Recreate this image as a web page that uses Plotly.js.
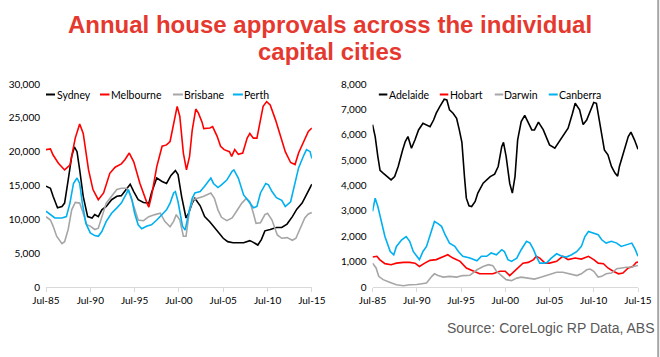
<!DOCTYPE html>
<html>
<head>
<meta charset="utf-8">
<script src="https://cdn.plot.ly/plotly-3.0.1.min.js"></script>
<style>html,body{margin:0;padding:0;background:#fff;}#chart{width:660px;height:357px;}</style>
</head>
<body>
<div id="chart"></div>
<script>
// Tick labels (decimal year positions of July each 5 years)
const tickYears = [1985.5, 1990.5, 1995.5, 2000.5, 2005.5, 2010.5, 2015.5];
const tickLabels = ["Jul-85", "Jul-90", "Jul-95", "Jul-00", "Jul-05", "Jul-10", "Jul-15"];

// Left panel: [decimal year, annual approvals]
const sydney = [[1985.5,14900],[1986.0,14600],[1986.3,13400],[1986.8,11700],[1987.3,11900],[1987.6,12400],[1988.0,15800],[1988.4,19300],[1988.7,20700],[1989.0,20000],[1989.3,17300],[1989.7,13400],[1990.2,10400],[1990.7,10200],[1991.0,10700],[1991.4,10400],[1991.8,11400],[1992.3,11900],[1992.9,12900],[1993.5,13400],[1994.0,13500],[1994.6,14600],[1995.0,15200],[1995.4,14100],[1995.9,12900],[1996.5,12500],[1997.1,12400],[1997.4,13900],[1998.0,16100],[1998.6,15600],[1999.1,15300],[1999.6,16500],[2000.1,17200],[2000.4,16600],[2000.8,13400],[2001.3,10200],[2001.6,10900],[2002.0,12400],[2002.3,13100],[2002.9,12000],[2003.4,10400],[2004.0,9600],[2004.8,8400],[2005.5,7200],[2006.0,6700],[2006.6,6550],[2007.8,6550],[2008.5,6850],[2008.9,6600],[2009.4,6200],[2009.8,7000],[2010.2,8300],[2010.8,8500],[2011.5,8800],[2012.1,8800],[2012.7,9300],[2013.3,10400],[2013.8,11500],[2014.4,12400],[2014.9,13600],[2015.5,15200]];
const melbourne = [[1985.5,20300],[1986.0,20400],[1986.3,19500],[1986.9,18300],[1987.6,17300],[1988.2,18000],[1988.8,22000],[1989.3,24100],[1989.7,22700],[1990.3,17300],[1990.8,14400],[1991.4,12900],[1992.0,13900],[1992.7,16800],[1993.3,17700],[1994.0,18200],[1994.4,18800],[1994.9,19800],[1995.4,18500],[1996.1,15300],[1996.9,12400],[1997.1,11800],[1997.4,13400],[1998.0,17800],[1998.6,20800],[1999.1,21000],[1999.5,21500],[1999.9,24200],[2000.3,26700],[2000.6,25200],[2001.0,19800],[2001.35,17300],[2001.7,19300],[2002.0,23200],[2002.4,26300],[2002.7,25700],[2003.1,24400],[2003.3,23400],[2004.0,23500],[2004.3,23700],[2004.8,22300],[2005.2,20800],[2005.6,20300],[2006.2,20000],[2006.45,19300],[2006.8,20300],[2007.2,19600],[2007.7,19800],[2008.2,22000],[2008.5,22700],[2008.9,22000],[2009.3,22000],[2009.7,24700],[2010.0,26700],[2010.4,27400],[2010.8,26900],[2011.4,24700],[2011.9,22500],[2012.5,20000],[2013.1,18400],[2013.6,18100],[2014.0,19800],[2014.6,21700],[2015.1,23000],[2015.5,23500]];
const brisbane = [[1985.5,10400],[1986.0,9900],[1986.3,9000],[1986.7,7500],[1987.3,6400],[1987.6,6700],[1988.0,8500],[1988.4,11400],[1988.8,12500],[1989.3,12400],[1989.7,10900],[1990.1,9200],[1990.5,9000],[1991.0,8500],[1991.4,8700],[1991.8,10400],[1992.3,12400],[1992.9,13400],[1993.5,14400],[1994.0,14600],[1994.6,14600],[1995.0,13600],[1995.4,11900],[1995.9,9900],[1996.5,9800],[1997.1,10400],[1997.8,10700],[1998.4,10900],[1998.9,9700],[1999.5,8900],[1999.9,9700],[2000.2,10700],[2000.6,9900],[2001.0,7500],[2001.3,7500],[2001.7,11400],[2002.1,12900],[2002.7,13100],[2003.3,13400],[2004.1,13900],[2004.5,13100],[2004.9,11400],[2005.3,10300],[2005.9,9800],[2006.5,10200],[2007.0,11200],[2007.6,12400],[2008.1,13100],[2008.5,12600],[2008.9,10900],[2009.2,9400],[2009.7,9500],[2010.2,10700],[2010.5,10900],[2011.0,9900],[2011.6,7700],[2012.1,7200],[2012.7,7300],[2013.3,6900],[2013.7,7200],[2014.2,8700],[2014.7,10200],[2015.1,10800],[2015.5,11000]];
const perth = [[1985.5,11200],[1986.0,10700],[1986.5,10200],[1987.3,10200],[1987.8,10400],[1988.2,12400],[1988.6,15300],[1989.0,16100],[1989.3,15300],[1989.6,12400],[1990.0,9400],[1990.5,8000],[1991.0,7600],[1991.4,7500],[1991.8,8200],[1992.3,9700],[1992.9,10900],[1993.5,11700],[1994.0,12400],[1994.5,13600],[1994.8,14400],[1995.2,12900],[1995.5,10900],[1995.9,9200],[1996.3,8600],[1996.9,9000],[1997.4,9200],[1998.0,9900],[1998.6,10700],[1999.1,11400],[1999.5,12400],[1999.9,13900],[2000.1,14100],[2000.4,12600],[2000.9,9000],[2001.2,8400],[2001.6,10900],[2002.0,13100],[2002.3,13900],[2002.9,14100],[2003.4,14900],[2004.1,16100],[2004.4,15300],[2004.9,14700],[2005.3,15100],[2005.9,15800],[2006.5,17100],[2006.7,17300],[2007.2,16100],[2007.8,13600],[2008.4,12600],[2008.9,11700],[2009.3,11900],[2009.7,13900],[2010.3,15300],[2010.6,15100],[2011.0,14100],[2011.5,13200],[2012.1,12800],[2012.5,11900],[2013.1,12600],[2013.4,14400],[2014.0,17600],[2014.6,19500],[2014.9,20300],[2015.3,20000],[2015.5,19000]];

// Right panel: [decimal year, annual approvals]
const adelaide = [[1985.5,6400],[1985.8,5930],[1986.1,5140],[1986.35,4600],[1986.7,4490],[1987.1,4380],[1987.6,4220],[1988.0,4350],[1988.4,4750],[1988.9,5400],[1989.2,5730],[1989.5,5930],[1989.9,5470],[1990.3,5800],[1990.7,6190],[1991.2,6450],[1991.6,6390],[1992.0,6320],[1992.4,6580],[1992.7,6850],[1993.1,7110],[1993.6,7400],[1993.9,7370],[1994.2,6980],[1994.6,6850],[1995.0,6650],[1995.3,6200],[1995.6,5700],[1995.9,4300],[1996.1,3500],[1996.4,3200],[1996.7,3170],[1997.1,3370],[1997.4,3700],[1998.0,4090],[1998.8,4350],[1999.3,4450],[1999.7,4750],[2000.1,5530],[2000.3,5700],[2000.6,5140],[2001.0,4090],[2001.3,3700],[2001.6,4350],[2001.9,5800],[2002.3,6520],[2002.7,6760],[2003.1,6450],[2003.5,6190],[2003.8,6190],[2004.25,6500],[2004.8,6190],[2005.2,5850],[2005.5,5600],[2006.1,5470],[2006.5,5670],[2007.0,5930],[2007.6,6260],[2008.1,6850],[2008.4,7240],[2008.9,6980],[2009.3,6400],[2009.7,6580],[2010.1,6910],[2010.5,7270],[2010.8,7240],[2011.2,6450],[2011.7,5400],[2012.1,5210],[2012.5,4750],[2012.9,4490],[2013.2,4370],[2013.4,4750],[2014.0,5400],[2014.4,5930],[2014.7,6100],[2015.1,5800],[2015.5,5430]];
const hobart = [[1985.5,1180],[1986.0,1210],[1986.3,1080],[1986.9,920],[1987.6,880],[1988.2,940],[1989.0,970],[1989.7,970],[1990.3,940],[1990.8,810],[1991.4,940],[1992.0,1050],[1992.7,1080],[1993.5,1210],[1994.0,1270],[1994.6,1140],[1995.4,1010],[1996.1,750],[1996.9,620],[1997.6,520],[1998.4,520],[1999.1,520],[1999.9,620],[2000.5,620],[2001.0,450],[2001.4,580],[2002.0,810],[2002.5,940],[2003.1,970],[2003.7,1080],[2004.0,1210],[2004.4,1140],[2005.0,940],[2005.5,940],[2006.3,1010],[2007.0,1210],[2007.6,1080],[2008.4,1140],[2009.1,1100],[2009.9,1210],[2010.5,1080],[2011.0,940],[2011.6,920],[2012.1,750],[2012.7,620],[2013.3,520],[2013.8,550],[2014.4,750],[2014.9,810],[2015.3,970],[2015.5,980]];
const darwin = [[1985.5,940],[1985.9,750],[1986.2,420],[1986.7,290],[1987.5,180],[1988.2,90],[1989.0,50],[1989.7,90],[1990.5,100],[1991.2,120],[1991.6,160],[1992.2,420],[1992.5,520],[1992.9,450],[1993.5,390],[1994.2,420],[1995.0,390],[1995.7,450],[1996.5,460],[1997.3,680],[1998.0,810],[1998.6,880],[1999.1,840],[1999.5,620],[2000.1,450],[2000.6,290],[2001.2,250],[2001.8,350],[2002.3,390],[2003.1,350],[2003.8,310],[2004.6,390],[2005.2,450],[2005.7,490],[2006.3,580],[2007.0,580],[2007.8,520],[2008.6,450],[2009.1,520],[2009.7,680],[2010.1,710],[2010.5,620],[2011.0,390],[2011.4,420],[2011.9,520],[2012.5,550],[2013.1,720],[2013.6,750],[2014.2,780],[2014.8,790],[2015.2,840],[2015.5,850]];
const canberra = [[1985.5,2980],[1985.8,3500],[1986.1,3170],[1986.5,2520],[1986.9,1990],[1987.5,1400],[1987.9,1270],[1988.2,1600],[1988.8,1860],[1989.3,1990],[1989.7,1800],[1990.1,1400],[1990.5,1210],[1990.8,1080],[1991.2,1400],[1991.6,1600],[1992.2,2260],[1992.5,2580],[1992.9,2500],[1993.3,2390],[1993.7,2060],[1994.2,1730],[1994.8,1600],[1995.2,1400],[1995.7,1210],[1996.5,1140],[1997.3,1030],[1997.8,1210],[1998.4,1210],[1998.9,1340],[1999.5,1270],[2000.1,1470],[2000.4,1400],[2000.8,1080],[2001.2,1010],[2001.8,1140],[2002.3,1470],[2002.9,1800],[2003.3,1730],[2003.7,1470],[2004.0,1210],[2004.4,940],[2004.8,940],[2005.2,960],[2005.7,1140],[2006.3,1310],[2006.9,1210],[2007.4,1180],[2008.0,1270],[2008.6,1400],[2009.1,1600],[2009.5,1990],[2009.9,2190],[2010.5,2120],[2011.0,2060],[2011.4,1860],[2011.9,1730],[2012.5,1800],[2013.1,1730],[2013.6,1600],[2014.2,1670],[2014.8,1730],[2015.2,1470],[2015.5,1210]];

const leftLegend = ["Sydney", "Melbourne", "Brisbane", "Perth"];
const rightLegend = ["Adelaide", "Hobart", "Darwin", "Canberra"];
const colors = ["#000000", "#ff0000", "#a6a6a6", "#00b0f0"];

// ---- layout helpers (pixel -> paper) ----
const L = 46, R = 21.7, T = 84, B = 70, W = 660, H = 357;
const PW = W - L - R, PH = H - T - B;
const px = x => (x - L) / PW;
const py = y => (H - B - y) / PH;

function trace(pts, name, color, xa, ya) {
  return {
    x: pts.map(p => p[0]), y: pts.map(p => p[1]),
    type: 'scatter', mode: 'lines', name: name,
    line: {color: color, width: 1.6},
    xaxis: xa, yaxis: ya, showlegend: false, hoverinfo: 'x+y'
  };
}

const data = [
  trace(sydney, leftLegend[0], colors[0], 'x', 'y'),
  trace(melbourne, leftLegend[1], colors[1], 'x', 'y'),
  trace(brisbane, leftLegend[2], colors[2], 'x', 'y'),
  trace(perth, leftLegend[3], colors[3], 'x', 'y'),
  trace(adelaide, rightLegend[0], colors[0], 'x2', 'y2'),
  trace(hobart, rightLegend[1], colors[1], 'x2', 'y2'),
  trace(darwin, rightLegend[2], colors[2], 'x2', 'y2'),
  trace(canberra, rightLegend[3], colors[3], 'x2', 'y2')
];

const tickFont = {family: 'Lato, "Open Sans", sans-serif', size: 10, color: '#000'};
function xAxis(domain, anchor) {
  return {
    domain: domain, anchor: anchor, range: [1985.5, 2015.5],
    tickmode: 'array', tickvals: tickYears, ticktext: tickLabels,
    showline: true, linecolor: '#d9d9d9', linewidth: 1,
    ticks: 'outside', ticklen: 4, tickcolor: '#d9d9d9',
    showgrid: false, zeroline: false, tickfont: tickFont, fixedrange: true
  };
}
function yAxis(range, dtick, anchor) {
  return {
    anchor: anchor, range: range, tick0: 0, dtick: dtick, tickformat: ',',
    showgrid: false, zeroline: false, showline: false, ticks: '',
    ticklabelstandoff: 5, tickfont: tickFont, fixedrange: true
  };
}

// legend entries: [dash start px, dash end px, text start px]
const leftLegPos = [[46, 55, 56], [100, 109.5, 110.5], [173, 183, 183.5], [233, 243, 243.5]];
const rightLegPos = [[379, 387.5, 388], [440, 448.5, 449.5], [495, 503.5, 503.5], [549, 558, 558.5]];
const legY = 94.5;
const shapes = [];
const annotations = [];
const legFont = {family: 'Lato, "Open Sans", sans-serif', size: 10.5, color: '#000'};
function addLegend(names, pos) {
  names.forEach((n, i) => {
    shapes.push({type: 'line', xref: 'paper', yref: 'paper',
      x0: px(pos[i][0]), x1: px(pos[i][1]), y0: py(legY), y1: py(legY),
      line: {color: colors[i], width: 2}});
    annotations.push({text: n, xref: 'paper', yref: 'paper', x: px(pos[i][2]), y: py(legY),
      xanchor: 'left', yanchor: 'middle', showarrow: false, font: legFont, borderpad: 0});
  });
}
addLegend(leftLegend, leftLegPos);
addLegend(rightLegend, rightLegPos);

annotations.push({text: 'capital cities', xref: 'paper', yref: 'paper', x: px(330), y: py(52),
  xanchor: 'center', yanchor: 'middle', showarrow: false,
  font: {family: '"Liberation Sans", Arial, sans-serif', size: 24, color: '#e5392f', weight: 'bold'}});
annotations.push({text: 'Source: CoreLogic RP Data, ABS', xref: 'paper', yref: 'paper', x: px(657), y: py(328),
  xanchor: 'right', yanchor: 'middle', showarrow: false,
  font: {family: '"Liberation Sans", Arial, sans-serif', size: 14, color: '#595959'}});

// right-edge border line of the slide
shapes.push({type: 'line', xref: 'paper', yref: 'paper', x0: px(658.5), x1: px(658.5), y0: py(0), y1: py(357),
  line: {color: '#a6a6a6', width: 2}});

const layout = {
  width: W, height: H,
  margin: {l: L, r: R, t: T, b: B},
  paper_bgcolor: '#ffffff', plot_bgcolor: '#ffffff',
  title: {text: 'Annual house approvals across the individual', x: 0.5, xref: 'container', xanchor: 'center',
    y: 1 - 24.5 / H, yref: 'container', yanchor: 'middle',
    font: {family: '"Liberation Sans", Arial, sans-serif', size: 24, color: '#e5392f', weight: 'bold'}},
  xaxis: xAxis([0, px(312)], 'y'),
  yaxis: yAxis([0, 30000], 5000, 'x'),
  xaxis2: xAxis([px(372.7), 1], 'y2'),
  yaxis2: yAxis([0, 8000], 1000, 'x2'),
  shapes: shapes, annotations: annotations, showlegend: false
};

Plotly.newPlot('chart', data, layout, {displayModeBar: false, staticPlot: true});
</script>
</body>
</html>
